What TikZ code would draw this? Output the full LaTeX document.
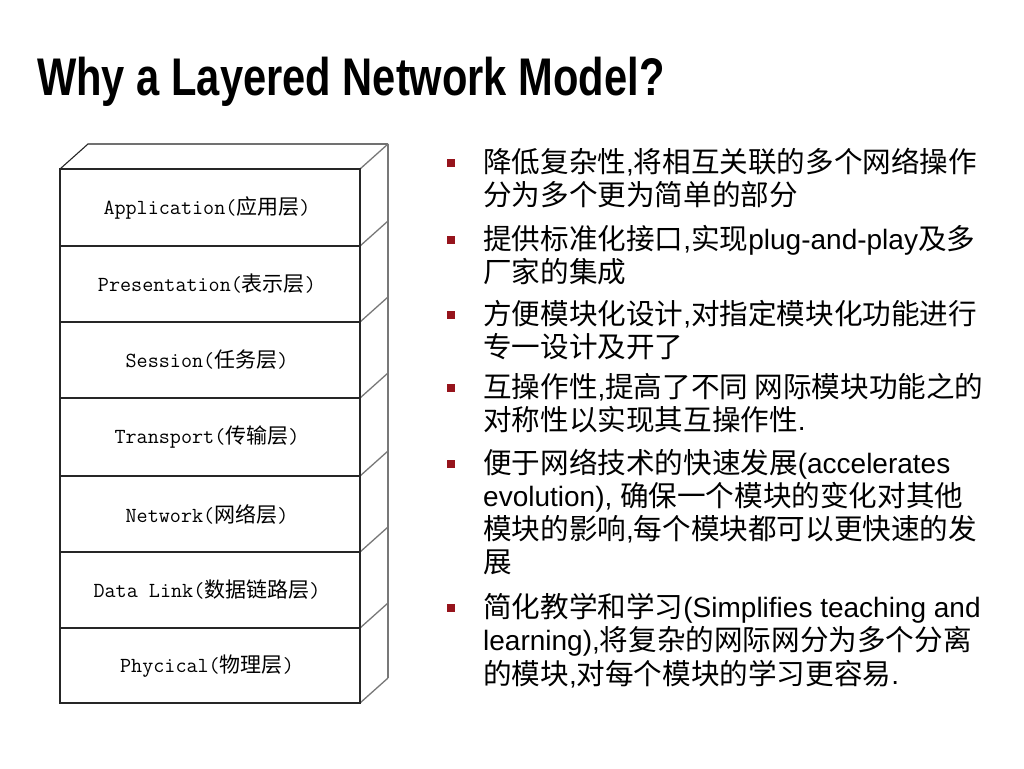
\documentclass[tikz,border=0pt]{standalone}
\usepackage{fontspec}
\setmainfont{Liberation Sans}
\newfontfamily\cjk{Noto Sans CJK SC}
\definecolor{bulletred}{RGB}{150,20,28}
\definecolor{sidegray}{RGB}{120,120,120}
\newcommand{\cj}[1]{{\cjk\fontsize{28.6}{33}\selectfont #1}}
\begin{document}
\begin{tikzpicture}[x=1pt,y=-1pt,
  front/.style={draw=black!85,line width=1.1pt},
  side/.style={draw=sidegray,line width=1.3pt},
  layerlabel/.style={font=\ttfamily\fontsize{21.5}{23}\selectfont,inner sep=0pt,anchor=center},
  bulletsq/.style={fill=bulletred,minimum width=7.5pt,minimum height=7.5pt,inner sep=0pt,anchor=center},
  bline/.style={font=\fontsize{28}{33}\selectfont,inner sep=0pt,anchor=base west}]
\useasboundingbox (0,0) rectangle (1024,768);
\fill[white] (0,0) rectangle (1024,768);
% title
\node[anchor=base west,inner sep=0pt,font=\bfseries\fontsize{53}{60}\selectfont] (title) at (37,95) {\scalebox{0.786}[1]{Why a Layered Network Model?}};
% layer stack coordinates
\foreach \i/\y in {0/169,1/246,2/322,3/398,4/476,5/552,6/628,7/703}{
  \coordinate (fl\i) at (60,\y);
  \coordinate (fr\i) at (360,\y);
  \coordinate (br\i) at (388,\y-25);
}
\coordinate (bl0) at (88,144);
% top face
\draw[front] (fl0) -- (bl0) -- (br0);
% right face
\draw[side] (br0) -- (br7);
\foreach \i in {0,...,7}{\draw[side] (fr\i) -- (br\i);}
\draw[side] (fr0) -- (fr7);
% front face
\draw[front] (fl0) rectangle (fr7);
\foreach \i in {1,...,6}{\draw[front] (fl\i) -- (fr\i);}
% labels
\newcommand{\lc}[1]{{\cjk\fontsize{21}{23}\selectfont #1}}
\node[layerlabel] (l1) at (207,208) {Application(\lc{应用层})};
\node[layerlabel] (l2) at (207,284) {Presentation(\lc{表示层})};
\node[layerlabel] (l3) at (207,360) {Session(\lc{任务层})};
\node[layerlabel] (l4) at (207,437) {Transport(\lc{传输层})};
\node[layerlabel] (l5) at (207,514) {Network(\lc{网络层})};
\node[layerlabel] (l6) at (207,590) {Data Link(\lc{数据链路层})};
\node[layerlabel] (l7) at (207,666) {Phycical(\lc{物理层})};
% bullets
\node[bulletsq] (s1) at (451,163) {};
\node[bulletsq] (s2) at (451,240) {};
\node[bulletsq] (s3) at (451,315) {};
\node[bulletsq] (s4) at (451,388) {};
\node[bulletsq] (s5) at (451,464) {};
\node[bulletsq] (s6) at (451,608) {};
% text lines
\node[bline] (t1a) at (483,172) {\cj{降低复杂性},\cj{将相互关联的多个网络操作}};
\node[bline] (t1b) at (483,205) {\cj{分为多个更为简单的部分}};
\node[bline] (t2a) at (483,249) {\cj{提供标准化接口},\cj{实现}plug-and-play\cj{及多}};
\node[bline] (t2b) at (483,282) {\cj{厂家的集成}};
\node[bline] (t3a) at (483,324) {\cj{方便模块化设计},\cj{对指定模块化功能进行}};
\node[bline] (t3b) at (483,357) {\cj{专一设计及开了}};
\node[bline] (t4a) at (483,397) {\cj{互操作性},\cj{提高了不同 网际模块功能之的}};
\node[bline] (t4b) at (483,430) {\cj{对称性以实现其互操作性}.};
\node[bline] (t5a) at (483,473) {\cj{便于网络技术的快速发展}(accelerates};
\node[bline] (t5b) at (483,506) {evolution), \cj{确保一个模块的变化对其他}};
\node[bline] (t5c) at (483,539) {\cj{模块的影响},\cj{每个模块都可以更快速的发}};
\node[bline] (t5d) at (483,572) {\cj{展}};
\node[bline] (t6a) at (483,617) {\cj{简化教学和学习}(Simplifies teaching and};
\node[bline] (t6b) at (483,650) {learning),\cj{将复杂的网际网分为多个分离}};
\node[bline] (t6c) at (483,684) {\cj{的模块},\cj{对每个模块的学习更容易}.};
\end{tikzpicture}
\end{document}
